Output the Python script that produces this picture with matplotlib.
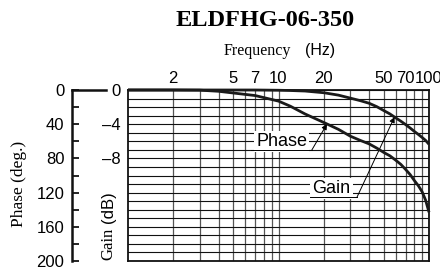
import numpy as np
import matplotlib
matplotlib.use('Agg')
import matplotlib.pyplot as plt
from matplotlib.lines import Line2D

# values
freq = [1, 2, 3, 4, 5, 7, 10, 12, 15, 20, 25, 30, 35, 40, 45, 50, 55, 60, 65, 70, 75, 80, 85, 90, 95, 100]
gain_db = [0, 0, 0, 0, 0, 0, -0.03, -0.06, -0.12, -0.32, -0.6, -0.95, -1.25, -1.55, -1.95, -2.4,
           -2.8, -3.25, -3.65, -4.05, -4.45, -4.85, -5.2, -5.55, -5.9, -6.35]
phase_deg = [0, 0, 0.2, 1.5, 3.5, 6.5, 13, 19, 28, 38, 46, 54, 59, 63, 68, 73,
             77, 82, 87, 93, 99, 106, 112, 119, 129, 143]

grid_freq = [2, 3, 4, 5, 6, 7, 8, 9, 10, 20, 30, 40, 50, 60, 70, 80, 90, 100]
freq_labels = {2: '2', 5: '5', 7: '7', 10: '10', 20: '20', 50: '50', 70: '70', 100: '100'}
gain_ticks = list(range(-20, 1))
gain_labels = {0: '0', -4: '\u20134', -8: '\u20138'}
phase_major = [0, 40, 80, 120, 160, 200]
phase_minor = [20, 60, 100, 140, 180]

plt.rcParams['font.family'] = ['Liberation Sans', 'DejaVu Sans']
W, H = 440, 269

def fx(px):
    return px / W

def fy(py):
    return 1 - py / H

fig = plt.figure(figsize=(4.4, 2.69), dpi=100)
ax = fig.add_axes([fx(128), fy(261), 301 / W, 171 / H])
ax.set_xscale('log')
ax.set_xlim(1, 100)
ax.set_ylim(-20, 0)

ax.xaxis.tick_top()
ax.set_xticks(grid_freq)
ax.set_xticklabels([freq_labels.get(f, '') for f in grid_freq])
ax.xaxis.set_minor_locator(matplotlib.ticker.NullLocator())
ax.tick_params(axis='x', length=0, pad=3, labelsize=12)
ax.set_yticks(gain_ticks)
ax.set_yticklabels([gain_labels.get(g, '') for g in gain_ticks])
ax.tick_params(axis='y', length=0, pad=5, labelsize=12)
ax.grid(True, axis='x', color='#555555', lw=0.9)
ax.grid(True, axis='y', color='#111111', lw=0.8)
for s in ax.spines.values():
    s.set_linewidth(1.3)
    s.set_color('#111111')

ax.plot(freq, gain_db, color='#1a1a1a', lw=2.0, solid_capstyle='butt', clip_on=False, zorder=4)

# phase axis, drawn as a separate left spine (56 px left of the grid)
ax2 = ax.twinx()
ax2.set_ylim(200, 0)
ax2.yaxis.set_ticks_position('left')
ax2.spines['left'].set_position(('outward', 56 * 72 / 100))
ax2.spines['left'].set_linewidth(1.8)
ax2.spines['left'].set_color('#111111')
for side in ['right', 'top', 'bottom']:
    ax2.spines[side].set_visible(False)
ax2.set_yticks(phase_major)
ax2.set_yticks(phase_minor, minor=True)
ax2.tick_params(axis='y', which='both', direction='in', length=5, width=1.2,
                pad=5.5, labelsize=12, left=True, right=False, labelleft=True, labelright=False)
ax2.plot(freq, phase_deg, color='#1a1a1a', lw=2.0, solid_capstyle='butt', clip_on=False, zorder=4)

fig.add_artist(Line2D([fx(72), fx(106)], [fy(90), fy(90)], color='#111111', lw=1.8))

# curve labels
lf = np.log10(freq)
tip_p = (21, np.interp(np.log10(21), lf, phase_deg) / -10)
tip_g = (59, np.interp(np.log10(59), lf, gain_db))
ax.text(10.5, -6.0, 'Phase', ha='center', va='center', fontsize=13, zorder=5,
        bbox=dict(facecolor='white', edgecolor='none', pad=1.5))
ax.plot([6.6, 16.6], [-7.06, -7.06], color='k', lw=0.7, zorder=5)
ax.annotate('', xy=tip_p, xytext=(16.6, -7.06),
            arrowprops=dict(arrowstyle='-|>', color='k', lw=0.7, mutation_scale=8, shrinkA=0, shrinkB=0), zorder=5)
ax.text(22.5, -11.5, 'Gain', ha='center', va='center', fontsize=13, zorder=5,
        bbox=dict(facecolor='white', edgecolor='none', pad=1.5))
ax.plot([16.2, 33.2], [-12.55, -12.55], color='k', lw=0.7, zorder=5)
ax.annotate('', xy=tip_g, xytext=(33.2, -12.55),
            arrowprops=dict(arrowstyle='-|>', color='k', lw=0.7, mutation_scale=8, shrinkA=0, shrinkB=0), zorder=5)

# titles and axis labels
fig.text(fx(265), fy(21), 'ELDFHG-06-350', ha='center', va='center', fontsize=17.5,
         fontweight='bold', family='Liberation Serif')
fig.text(fx(291), fy(55), 'Frequency', ha='right', va='baseline', fontsize=11.5, family='Liberation Serif')
fig.text(fx(305), fy(55), '(Hz)', ha='left', va='baseline', fontsize=11.5)
fig.text(fx(19), fy(184), 'Phase (deg.)', rotation=90, ha='center', va='center', fontsize=12.5,
         family='Liberation Serif')
fig.text(fx(108), fy(244), 'Gain', rotation=90, ha='center', va='center', fontsize=12, family='Liberation Serif')
fig.text(fx(108), fy(207), '(dB)', rotation=90, ha='center', va='center', fontsize=12)

fig.savefig('out.png', dpi=100)
